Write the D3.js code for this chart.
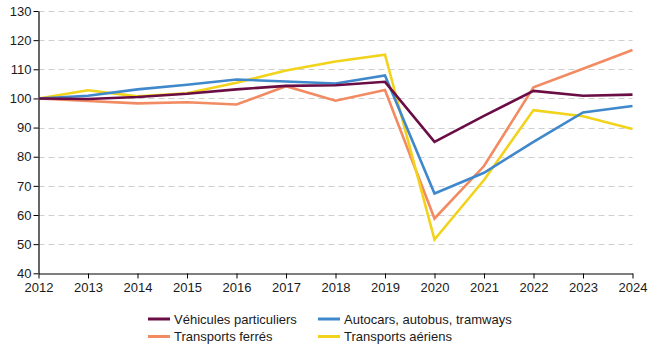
<!DOCTYPE html>
<html>
<head>
<meta charset="utf-8">
<script src="https://cdn.jsdelivr.net/npm/d3@7/dist/d3.min.js"></script>
<style>
  html, body { margin: 0; padding: 0; background: #fff; }
  svg { display: block; font-family: "Liberation Sans", Arial, Helvetica, sans-serif; }
</style>
</head>
<body>
<svg id="chart" width="649" height="344"></svg>
<script>
// Indice base 100 en 2012
const years = [2012, 2013, 2014, 2015, 2016, 2017, 2018, 2019, 2020, 2021, 2022, 2023, 2024];
const vehiculesParticuliers = [100, 99.8, 100.5, 101.6, 103.1, 104.3, 104.5, 105.7, 85.1, 94.0, 102.6, 100.9, 101.3];
const autocars = [100, 100.9, 103.1, 104.7, 106.5, 105.8, 105.1, 107.9, 67.4, 74.5, 85.1, 95.2, 97.4];
const transportsFerres = [100, 99.1, 98.3, 98.7, 97.9, 104.2, 99.2, 102.9, 58.8, 76.8, 103.8, 110.2, 116.6];
const transportsAeriens = [100, 102.8, 100.7, 101.8, 105.4, 109.6, 112.7, 115.0, 51.6, 72.0, 96.0, 93.9, 89.5];
const yTicks = [40, 50, 60, 70, 80, 90, 100, 110, 120, 130];
const seriesNames = ["Véhicules particuliers", "Autocars, autobus, tramways", "Transports ferrés", "Transports aériens"];
const seriesColors = ["#6a0d45", "#3f88cb", "#f28a62", "#f2d31b"];
const seriesValues = [vehiculesParticuliers, autocars, transportsFerres, transportsAeriens];

const svg = d3.select("#chart");
const margin = { left: 38.5, right: 16, top: 11, bottom: 71 };

const x = d3.scaleLinear().domain([2012, 2024]).range([margin.left, 632.5]);
const y = d3.scaleLinear().domain([40, 130]).range([273.3, 11]);

// dashed horizontal grid
svg.append("g")
  .selectAll("line")
  .data(yTicks.filter(t => t > 40))
  .join("line")
  .attr("x1", margin.left)
  .attr("x2", 632.5)
  .attr("y1", d => Math.round(y(d)) + 0.5)
  .attr("y2", d => Math.round(y(d)) + 0.5)
  .attr("stroke", "#cfcfcf")
  .attr("stroke-width", 1)
  .attr("stroke-dasharray", "6,4");

// axes
const xAxis = svg.append("g")
  .attr("transform", `translate(0,${Math.round(y(40)) + 0.5})`)
  .call(d3.axisBottom(x).tickValues(years).tickFormat(d3.format("d")).tickSize(5).tickSizeOuter(0));
const yAxis = svg.append("g")
  .attr("transform", `translate(${margin.left},0)`)
  .call(d3.axisLeft(y).tickValues(yTicks).tickSize(5).tickSizeOuter(0));

[xAxis, yAxis].forEach(a => {
  a.select(".domain").attr("stroke", "#000").attr("stroke-width", 1.2);
  a.selectAll(".tick line").attr("stroke", "#000").attr("stroke-width", 1);
  a.selectAll(".tick text")
    .attr("fill", "#1a1a1a")
    .style("font-size", "13px")
    .style("font-family", "\"Liberation Sans\", Arial, Helvetica, sans-serif");
});
xAxis.selectAll(".tick text").attr("dy", "0.95em").attr("y", 6);
yAxis.selectAll(".tick text").attr("x", -7);

// series lines
const line = d3.line()
  .x((d, i) => x(years[i]))
  .y(d => y(d));

const drawOrder = [2, 3, 1, 0];
drawOrder.forEach(k => {
  svg.append("path")
    .datum(seriesValues[k])
    .attr("fill", "none")
    .attr("stroke", seriesColors[k])
    .attr("stroke-width", 2.6)
    .attr("stroke-linejoin", "miter")
    .attr("d", line);
});

// legend
const legendPos = [[148, 319], [318, 319], [148, 336.5], [318, 336.5]];
const legend = svg.append("g");
seriesNames.forEach((name, k) => {
  const [lx, ly] = legendPos[k];
  const g = legend.append("g").attr("transform", `translate(${lx},${ly})`);
  g.append("line")
    .attr("x1", 0).attr("x2", 22)
    .attr("y1", 0).attr("y2", 0)
    .attr("stroke", seriesColors[k])
    .attr("stroke-width", 3);
  g.append("text")
    .attr("x", 26)
    .attr("y", 0)
    .attr("dy", "0.35em")
    .attr("fill", "#1a1a1a")
    .style("font-size", "13px")
    .text(name);
});
</script>
</body>
</html>
